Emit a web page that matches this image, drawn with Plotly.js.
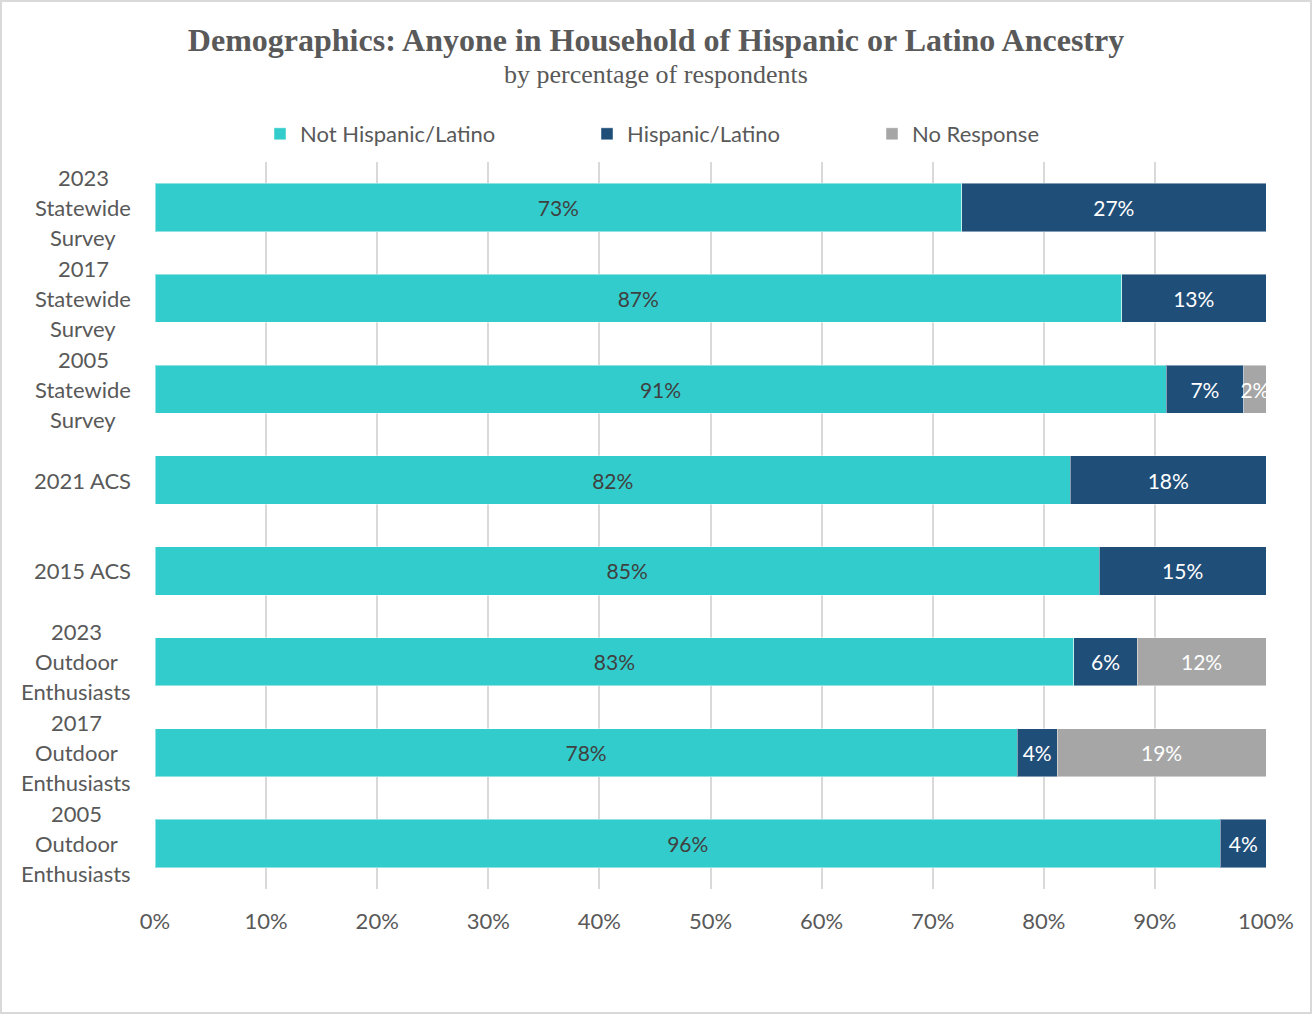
<!DOCTYPE html>
<html>
<head>
<meta charset="utf-8">
<script src="https://cdn.plot.ly/plotly-3.0.1.min.js"></script>
<style>
  html, body { margin: 0; padding: 0; background: #fff; }
  #wrap { position: relative; width: 1312px; height: 1014px; }
  #chart { position: absolute; left: 0; top: 0; width: 1312px; height: 1014px; }
  #frame { position: absolute; left: 0; top: 0; width: 1312px; height: 1014px; box-sizing: border-box; border: 2px solid #D9D9D9; pointer-events: none; }
</style>
</head>
<body>
<div id="wrap"><div id="chart"></div><div id="frame"></div></div>
<script>
// ---- data ----
const categories = [
  "2023 Statewide Survey",
  "2017 Statewide Survey",
  "2005 Statewide Survey",
  "2021 ACS",
  "2015 ACS",
  "2023 Outdoor Enthusiasts",
  "2017 Outdoor Enthusiasts",
  "2005 Outdoor Enthusiasts"
];
const categoryLabels = [
  "2023<br>Statewide<br>Survey",
  "2017<br>Statewide<br>Survey",
  "2005<br>Statewide<br>Survey",
  "2021 ACS",
  "2015 ACS",
  "2023<br>Outdoor<br>Enthusiasts",
  "2017<br>Outdoor<br>Enthusiasts",
  "2005<br>Outdoor<br>Enthusiasts"
];
const notHispanic = [72.6, 87.0, 91.0, 82.4, 85.0, 82.7, 77.6, 95.9];
const hispanic    = [27.4, 13.0, 7.0, 17.6, 15.0, 5.7, 3.6, 4.1];
const noResponse  = [null, null, 2.0, null, null, 11.6, 18.8, null];
const seriesNames = ["Not Hispanic/Latino", "Hispanic/Latino", "No Response"];
const xTickValues = [0, 10, 20, 30, 40, 50, 60, 70, 80, 90, 100];
const xTickLabels = ["0%", "10%", "20%", "30%", "40%", "50%", "60%", "70%", "80%", "90%", "100%"];

// ---- style ----
const FONT = "Lato, 'Noto Sans', sans-serif";
const SERIF = "'Liberation Serif', 'Times New Roman', serif";
const GREY_TEXT = "#595959";
const colors = ["#33CCCC", "#1F4E79", "#A6A6A6"];
const labelColors = ["#404040", "#FFFFFF", "#FFFFFF"];
const W = 1312, H = 1014;
const M = { l: 155, r: 46, t: 162, b: 125 };
const plotW = W - M.l - M.r;
const plotH = H - M.t - M.b;
const LABEL_SIZE = 22;

function barTrace(vals, i, legendId) {
  return {
    type: "bar",
    orientation: "h",
    name: seriesNames[i],
    y: categories,
    x: vals,
    marker: { color: colors[i], line: { color: "rgba(255,255,255,0.45)", width: 1 } },
    texttemplate: "%{x:.0f}%",
    textposition: "inside",
    insidetextanchor: "middle",
    textangle: 0,
    constraintext: "none",
    textfont: { family: FONT, size: 21, color: labelColors[i] },
    hoverinfo: "skip",
    legend: legendId,
    width: 0.53
  };
}

const traces = [
  barTrace(notHispanic, 0, "legend"),
  barTrace(hispanic, 1, "legend2"),
  barTrace(noResponse, 2, "legend3")
];

// measure label widths to centre multi-line labels in a right-aligned box
const cv = document.createElement("canvas").getContext("2d");
cv.font = LABEL_SIZE + "px Lato";
const annotations = [];
const labelRightPx = 131;
const lineGap = 30;
categoryLabels.forEach((lab, ci) => {
  const lines = lab.split("<br>");
  const widest = Math.max(...lines.map(s => cv.measureText(s).width));
  const centerPx = labelRightPx - widest / 2;
  lines.forEach((ln, li) => {
    annotations.push({
      text: ln,
      xref: "paper", yref: "y",
      x: (centerPx - M.l) / plotW,
      y: categories[ci],
      xanchor: "center", yanchor: "middle",
      yshift: -((li - (lines.length - 1) / 2) * lineGap),
      showarrow: false,
      font: { family: FONT, size: LABEL_SIZE, color: GREY_TEXT }
    });
  });
});
// subtitle
annotations.push({
  text: "by percentage of respondents",
  xref: "paper", yref: "paper",
  x: (656 - M.l) / plotW,
  y: (H - M.b - 74) / plotH,
  xanchor: "center", yanchor: "middle",
  showarrow: false,
  font: { family: SERIF, size: 26, color: GREY_TEXT }
});

function legendAt(textPx) {
  return {
    orientation: "h",
    x: (textPx - 40 - M.l) / plotW,
    y: (H - M.b - 134) / plotH,
    xanchor: "left", yanchor: "middle",
    font: { family: FONT, size: 22, color: GREY_TEXT },
    bgcolor: "rgba(0,0,0,0)",
    itemclick: false
  };
}

const layout = {
  width: W, height: H,
  margin: M,
  paper_bgcolor: "#FFFFFF",
  plot_bgcolor: "#FFFFFF",
  barmode: "stack",
  showlegend: true,
  title: {
    text: "<b>Demographics: Anyone in Household of Hispanic or Latino Ancestry</b>",
    font: { family: SERIF, size: 32, color: GREY_TEXT },
    x: 0.5, xref: "container", xanchor: "center",
    y: 1 - 40 / H, yref: "container", yanchor: "middle"
  },
  xaxis: {
    range: [0, 100],
    tickvals: xTickValues,
    ticktext: xTickLabels,
    showgrid: true,
    gridcolor: "#D9D9D9",
    gridwidth: 2,
    zeroline: false,
    showline: false,
    ticks: "",
    tickfont: { family: FONT, size: 22, color: GREY_TEXT },
    ticklabelstandoff: 17,
    fixedrange: true
  },
  yaxis: {
    type: "category",
    autorange: "reversed",
    showticklabels: false,
    showgrid: false,
    zeroline: false,
    showline: false,
    ticks: "",
    fixedrange: true
  },
  legend: legendAt(300),
  legend2: legendAt(627),
  legend3: legendAt(912),
  annotations: annotations
};

Plotly.newPlot("chart", traces, layout, { displayModeBar: false, staticPlot: true });
</script>
</body>
</html>
